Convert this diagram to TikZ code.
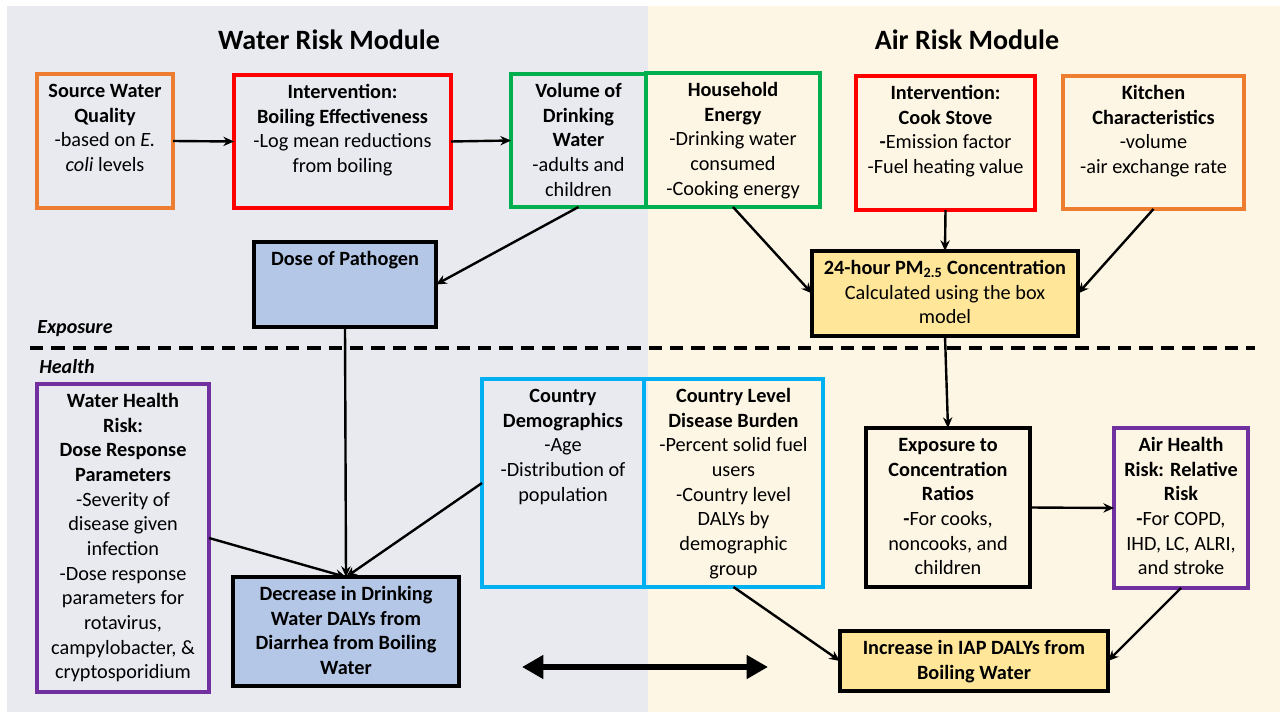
\documentclass[tikz,border=0pt]{standalone}
\usepackage{fontspec}
\setmainfont{Carlito}
\usetikzlibrary{arrows.meta}
\definecolor{orangeC}{HTML}{ED7D31}
\definecolor{redC}{HTML}{FF0000}
\definecolor{greenC}{HTML}{00B050}
\definecolor{cyanC}{HTML}{00B0F0}
\definecolor{purpleC}{HTML}{7030A0}
\definecolor{blueFill}{HTML}{B4C7E7}
\definecolor{goldFill}{HTML}{FFE699}
\definecolor{leftBg}{HTML}{E8EAF0}
\definecolor{rightBg}{HTML}{FEF6E4}
\newcommand\mkbox[6]{%
  \node[box,#1,minimum width={(#5-#3)*0.75pt},minimum height={(#6-#4)*0.75pt}] (#2) at (#3,#4) {};}
\newcommand\mktext[2]{%
  \node[txt] (#1t) at ([yshift=-4.5pt]#1.north) {\strut #2};}
\begin{document}
\begin{tikzpicture}[x=0.75pt,y=-0.75pt,
  box/.style={draw,line width=2.3pt,inner sep=0pt,outer sep=0pt,anchor=north west},
  txt/.style={align=center,inner sep=0pt,font=\fontsize{15.2}{18.5}\selectfont,anchor=north},
  arr/.style={line width=1.8pt,-{Stealth[length=8pt,width=7pt]}},
  dbl/.style={line width=5pt,{Triangle[length=16pt,width=17pt]}-{Triangle[length=16pt,width=17pt]}},
  title/.style={font=\fontsize{21}{25}\selectfont\bfseries},
  lvl/.style={font=\fontsize{15}{18}\selectfont\bfseries\itshape,anchor=west,inner sep=0pt}]
\useasboundingbox (0,0) rectangle (1285,713);
\fill[white] (0,0) rectangle (1285,713);
\fill[leftBg] (7,6) rectangle (648,712);
\fill[rightBg] (648,6) rectangle (1280,712);

\node[title] (wtitle) at (329,40) {Water Risk Module};
\node[title] (atitle) at (967,40) {Air Risk Module};

% top row
\mkbox{draw=orangeC}{src}{37}{74}{173}{208}
\mktext{src}{\textbf{Source Water}\\\textbf{Quality}\\-based on \textit{E.}\\\textit{coli} levels}
\mkbox{draw=redC}{boil}{234}{75}{451}{208}
\mktext{boil}{\textbf{Intervention:}\\\textbf{Boiling Effectiveness}\\-Log mean reductions\\from boiling}
\mkbox{draw=greenC}{vol}{511}{74}{646}{207}
\mktext{vol}{\textbf{Volume of}\\\textbf{Drinking}\\\textbf{Water}\\-adults and\\children}
\mkbox{draw=greenC}{hh}{646}{73}{820}{207}
\mktext{hh}{\textbf{Household}\\\textbf{Energy}\\-Drinking water\\consumed\\-Cooking energy}
\mkbox{draw=redC}{cook}{856}{76}{1035}{210}
\mktext{cook}{\textbf{Intervention:}\\\textbf{Cook Stove}\\\textbf{-}Emission factor\\-Fuel heating value}
\mkbox{draw=orangeC}{kit}{1063}{76}{1244}{209}
\mktext{kit}{\textbf{Kitchen}\\\textbf{Characteristics}\\-volume\\-air exchange rate}

% exposure row
\mkbox{draw=black,fill=blueFill}{dose}{254}{242}{436}{327}
\mktext{dose}{\textbf{Dose of Pathogen}}
\mkbox{draw=black,fill=goldFill}{pm}{812}{251}{1078}{336}
\mktext{pm}{\textbf{24-hour PM\textsubscript{2.5} Concentration}\\Calculated using the box\\model}

% divider
\node[lvl] (expo) at (37,329) {Exposure};
\node[lvl] (health) at (39,367) {Health};
\coordinate (dashL) at (30,348);
\coordinate (dashR) at (1255,348);
\draw[line width=3pt,dash pattern=on 10pt off 6pt] (dashL) -- (dashR);

% health row
\mkbox{draw=purpleC}{wh}{37}{384}{209}{692}
\mktext{wh}{\textbf{Water Health}\\\textbf{Risk:}\\\textbf{Dose Response}\\\textbf{Parameters}\\-Severity of\\disease given\\infection\\-Dose response\\parameters for\\rotavirus,\\campylobacter, \&\\cryptosporidium}
\mkbox{draw=cyanC}{cdem}{482}{379}{644}{587}
\mktext{cdem}{\textbf{Country}\\\textbf{Demographics}\\-Age\\-Distribution of\\population}
\mkbox{draw=cyanC}{clev}{644}{379}{823}{587}
\mktext{clev}{\textbf{Country Level}\\\textbf{Disease Burden}\\-Percent solid fuel\\users\\-Country level\\DALYs by\\demographic\\group}
\mkbox{draw=black}{expr}{866}{428}{1030}{587}
\mktext{expr}{\textbf{Exposure to}\\\textbf{Concentration}\\\textbf{Ratios}\\\textbf{-}For cooks,\\noncooks, and\\children}
\mkbox{draw=purpleC}{ahr}{1114}{428}{1248}{588}
\mktext{ahr}{\textbf{Air Health}\\\textbf{Risk: Relative}\\\textbf{Risk}\\\textbf{-}For COPD,\\IHD, LC, ALRI,\\and stroke}
\mkbox{draw=black,fill=blueFill}{dec}{233}{577}{459}{686}
\mktext{dec}{\textbf{Decrease in Drinking}\\\textbf{Water DALYs from}\\\textbf{Diarrhea from Boiling}\\\textbf{Water}}
\mkbox{draw=black,fill=goldFill}{inc}{840}{631}{1108}{691}
\mktext{inc}{\textbf{Increase in IAP DALYs from}\\\textbf{Boiling Water}}

% connectors
\draw[arr] (src.east) -- (boil.west);
\draw[arr] (boil.east) -- (vol.west);
\draw[arr] (vol.south) -- (dose.east);
\draw[arr] (hh.south) -- (pm.west);
\draw[arr] (cook.south) -- (pm.north);
\draw[arr] (kit.south) -- (pm.east);
\draw[arr] (dose.south) -- (dec.north);
\draw[arr] (wh.east) -- (dec.north);
\draw[arr] (cdem.west) -- (dec.north);
\draw[arr] (pm.south) -- (expr.north);
\draw[arr] (expr.east) -- (ahr.west);
\draw[arr] (clev.south) -- (inc.west);
\draw[arr] (ahr.south) -- (inc.east);
\coordinate (dblL) at (522,667);
\coordinate (dblR) at (768,667);
\draw[dbl] (dblL) -- (dblR);
\end{tikzpicture}
\end{document}
